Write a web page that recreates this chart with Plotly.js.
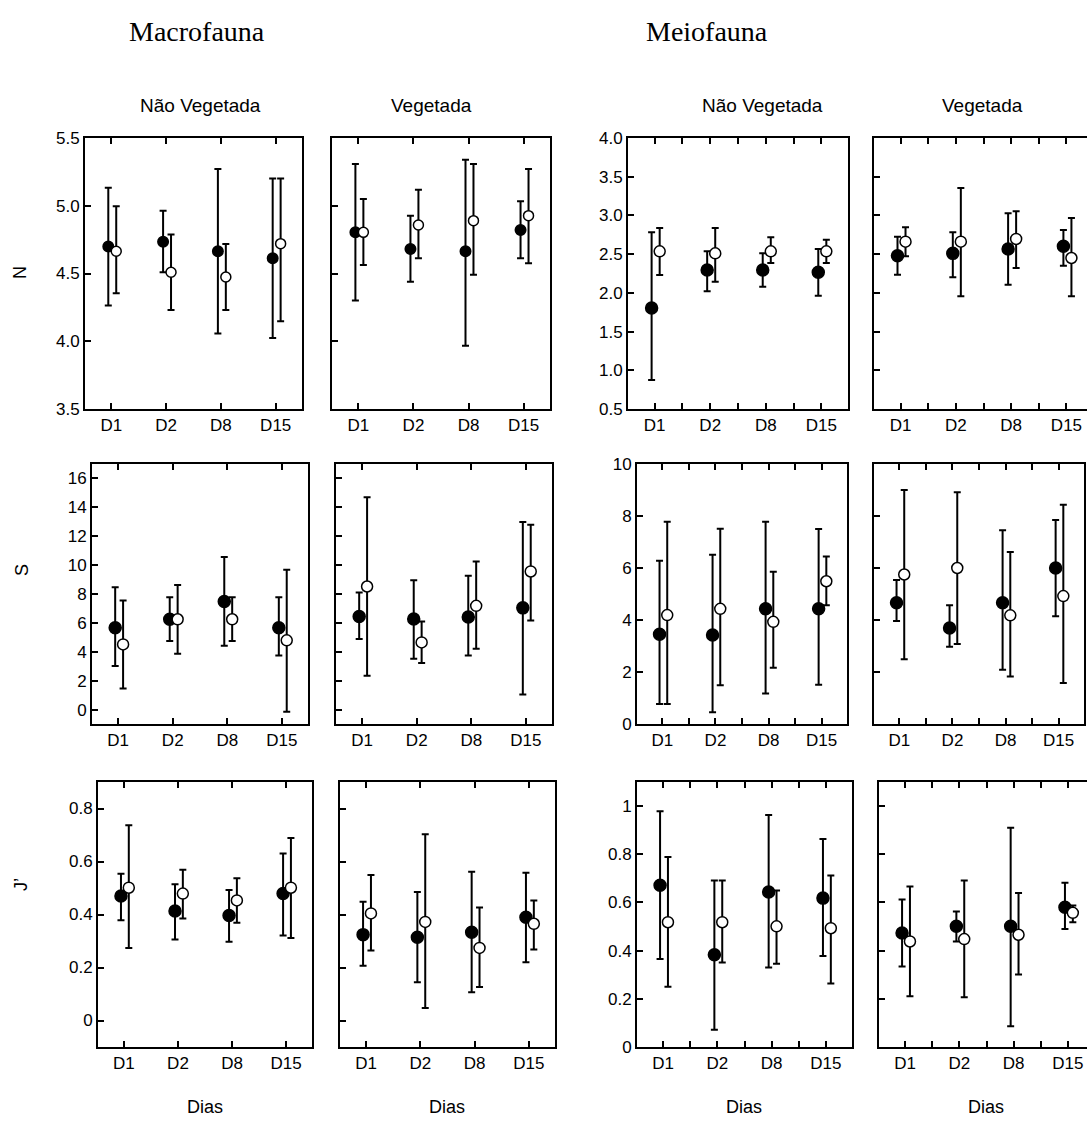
<!DOCTYPE html>
<html>
<head>
<meta charset="utf-8">
<script src="https://cdn.plot.ly/plotly-3.0.1.min.js"></script>
<style>
html,body{margin:0;padding:0;background:#fff;overflow:hidden;}
#chart{width:1100px;height:1126px;}
</style>
</head>
<body>
<div id="chart"></div>
<script>
// ---------------- DATA ----------------
const days = ['D1', 'D2', 'D8', 'D15'];

// Macrofauna – N – Não Vegetada
const macroN_NV_fill_mean  = [4.70, 4.735, 4.664, 4.612];
const macroN_NV_fill_upper = [5.133, 4.964, 5.271, 5.202];
const macroN_NV_fill_lower = [4.263, 4.509, 4.058, 4.024];
const macroN_NV_open_mean  = [4.664, 4.509, 4.474, 4.72];
const macroN_NV_open_upper = [4.996, 4.787, 4.718, 5.202];
const macroN_NV_open_lower = [4.354, 4.231, 4.231, 4.147];
// Macrofauna – N – Vegetada
const macroN_V_fill_mean  = [4.804, 4.681, 4.664, 4.821];
const macroN_V_fill_upper = [5.308, 4.927, 5.34, 5.033];
const macroN_V_fill_lower = [4.30, 4.44, 3.967, 4.612];
const macroN_V_open_mean  = [4.804, 4.858, 4.89, 4.927];
const macroN_V_open_upper = [5.05, 5.119, 5.308, 5.271];
const macroN_V_open_lower = [4.563, 4.612, 4.491, 4.575];
// Meiofauna – N – Não Vegetada
const meioN_NV_fill_mean  = [1.805, 2.295, 2.295, 2.265];
const meioN_NV_fill_upper = [2.782, 2.536, 2.51, 2.566];
const meioN_NV_fill_lower = [0.875, 2.02, 2.08, 1.964];
const meioN_NV_open_mean  = [2.536, 2.51, 2.536, 2.536];
const meioN_NV_open_upper = [2.838, 2.838, 2.717, 2.687];
const meioN_NV_open_lower = [2.231, 2.145, 2.386, 2.386];
// Meiofauna – N – Vegetada
const meioN_V_fill_mean  = [2.48, 2.51, 2.567, 2.601];
const meioN_V_fill_upper = [2.726, 2.782, 3.027, 2.812];
const meioN_V_fill_lower = [2.235, 2.20, 2.106, 2.351];
const meioN_V_open_mean  = [2.661, 2.661, 2.696, 2.45];
const meioN_V_open_upper = [2.846, 3.354, 3.053, 2.967];
const meioN_V_open_lower = [2.472, 1.955, 2.321, 1.955];

// Macrofauna – S – Não Vegetada
const macroS_NV_fill_mean  = [5.67, 6.25, 7.48, 5.67];
const macroS_NV_fill_upper = [8.47, 7.78, 10.56, 7.78];
const macroS_NV_fill_lower = [3.01, 4.75, 4.42, 3.75];
const macroS_NV_open_mean  = [4.51, 6.25, 6.25, 4.79];
const macroS_NV_open_upper = [7.55, 8.63, 7.78, 9.68];
const macroS_NV_open_lower = [1.46, 3.87, 4.75, -0.16];
// Macrofauna – S – Vegetada
const macroS_V_fill_mean  = [6.44, 6.27, 6.41, 7.04];
const macroS_V_fill_upper = [8.10, 8.96, 9.26, 12.99];
const macroS_V_fill_lower = [4.88, 3.52, 3.75, 1.04];
const macroS_V_open_mean  = [8.52, 4.65, 7.18, 9.56];
const macroS_V_open_upper = [14.70, 6.09, 10.25, 12.80];
const macroS_V_open_lower = [2.34, 3.22, 4.21, 6.16];
// Meiofauna – S – Não Vegetada
const meioS_NV_fill_mean  = [3.45, 3.42, 4.43, 4.43];
const meioS_NV_fill_upper = [6.28, 6.51, 7.78, 7.50];
const meioS_NV_fill_lower = [0.77, 0.45, 1.17, 1.51];
const meioS_NV_open_mean  = [4.19, 4.43, 3.93, 5.49];
const meioS_NV_open_upper = [7.78, 7.51, 5.86, 6.44];
const meioS_NV_open_lower = [0.77, 1.49, 2.16, 4.57];
// Meiofauna – S – Vegetada
const meioS_V_fill_mean  = [4.66, 3.69, 4.66, 6.00];
const meioS_V_fill_upper = [5.54, 4.57, 7.45, 7.85];
const meioS_V_fill_lower = [3.96, 2.97, 2.09, 4.14];
const meioS_V_open_mean  = [5.75, 6.00, 4.18, 4.92];
const meioS_V_open_upper = [9.00, 8.91, 6.62, 8.43];
const meioS_V_open_lower = [2.49, 3.08, 1.83, 1.58];

// Macrofauna – J' – Não Vegetada
const macroJ_NV_fill_mean  = [0.470, 0.413, 0.396, 0.479];
const macroJ_NV_fill_upper = [0.554, 0.514, 0.492, 0.630];
const macroJ_NV_fill_lower = [0.378, 0.306, 0.297, 0.321];
const macroJ_NV_open_mean  = [0.501, 0.479, 0.453, 0.501];
const macroJ_NV_open_upper = [0.737, 0.569, 0.537, 0.689];
const macroJ_NV_open_lower = [0.274, 0.385, 0.369, 0.311];
// Macrofauna – J' – Vegetada
const macroJ_V_fill_mean  = [0.324, 0.314, 0.333, 0.390];
const macroJ_V_fill_upper = [0.448, 0.485, 0.561, 0.558];
const macroJ_V_fill_lower = [0.207, 0.144, 0.107, 0.220];
const macroJ_V_open_mean  = [0.404, 0.372, 0.274, 0.365];
const macroJ_V_open_upper = [0.549, 0.703, 0.426, 0.453];
const macroJ_V_open_lower = [0.264, 0.047, 0.126, 0.268];
// Meiofauna – J' – Não Vegetada
const meioJ_NV_fill_mean  = [0.671, 0.383, 0.643, 0.618];
const meioJ_NV_fill_upper = [0.979, 0.691, 0.963, 0.863];
const meioJ_NV_fill_lower = [0.365, 0.072, 0.330, 0.378];
const meioJ_NV_open_mean  = [0.518, 0.518, 0.501, 0.493];
const meioJ_NV_open_upper = [0.789, 0.691, 0.650, 0.712];
const meioJ_NV_open_lower = [0.250, 0.351, 0.346, 0.264];
// Meiofauna – J' – Vegetada
const meioJ_V_fill_mean  = [0.473, 0.501, 0.501, 0.580];
const meioJ_V_fill_upper = [0.612, 0.562, 0.910, 0.682];
const meioJ_V_fill_lower = [0.334, 0.438, 0.086, 0.490];
const meioJ_V_open_mean  = [0.438, 0.448, 0.466, 0.557];
const meioJ_V_open_upper = [0.666, 0.691, 0.639, 0.587];
const meioJ_V_open_lower = [0.211, 0.207, 0.301, 0.518];

// Tick labels
const ticksMacroN = ['3.5', '4.0', '4.5', '5.0', '5.5'];
const ticksMeioN  = ['0.5', '1.0', '1.5', '2.0', '2.5', '3.0', '3.5', '4.0'];
const ticksMacroS = ['0', '2', '4', '6', '8', '10', '12', '14', '16'];
const ticksMeioS  = ['0', '2', '4', '6', '8', '10'];
const ticksMacroJ = ['0', '0.2', '0.4', '0.6', '0.8'];
const ticksMeioJ  = ['0', '0.2', '0.4', '0.6', '0.8', '1'];

// ---------------- LAYOUT HELPERS ----------------
const W = 1100, H = 1126;
const FONT = 'Liberation Sans, Arial, sans-serif';

const rowsY = [[138, 409], [464, 724], [782, 1047]];
const colsX = [
  [[85, 302], [332, 550], [628, 848], [874, 1093]],
  [[92, 308], [336, 552], [637, 847], [874, 1084]],
  [[98, 312], [340, 555], [637, 852], [879, 1094]]
];

const panelData = [
  [[macroN_NV_fill_mean, macroN_NV_fill_upper, macroN_NV_fill_lower, macroN_NV_open_mean, macroN_NV_open_upper, macroN_NV_open_lower],
   [macroN_V_fill_mean, macroN_V_fill_upper, macroN_V_fill_lower, macroN_V_open_mean, macroN_V_open_upper, macroN_V_open_lower],
   [meioN_NV_fill_mean, meioN_NV_fill_upper, meioN_NV_fill_lower, meioN_NV_open_mean, meioN_NV_open_upper, meioN_NV_open_lower],
   [meioN_V_fill_mean, meioN_V_fill_upper, meioN_V_fill_lower, meioN_V_open_mean, meioN_V_open_upper, meioN_V_open_lower]],
  [[macroS_NV_fill_mean, macroS_NV_fill_upper, macroS_NV_fill_lower, macroS_NV_open_mean, macroS_NV_open_upper, macroS_NV_open_lower],
   [macroS_V_fill_mean, macroS_V_fill_upper, macroS_V_fill_lower, macroS_V_open_mean, macroS_V_open_upper, macroS_V_open_lower],
   [meioS_NV_fill_mean, meioS_NV_fill_upper, meioS_NV_fill_lower, meioS_NV_open_mean, meioS_NV_open_upper, meioS_NV_open_lower],
   [meioS_V_fill_mean, meioS_V_fill_upper, meioS_V_fill_lower, meioS_V_open_mean, meioS_V_open_upper, meioS_V_open_lower]],
  [[macroJ_NV_fill_mean, macroJ_NV_fill_upper, macroJ_NV_fill_lower, macroJ_NV_open_mean, macroJ_NV_open_upper, macroJ_NV_open_lower],
   [macroJ_V_fill_mean, macroJ_V_fill_upper, macroJ_V_fill_lower, macroJ_V_open_mean, macroJ_V_open_upper, macroJ_V_open_lower],
   [meioJ_NV_fill_mean, meioJ_NV_fill_upper, meioJ_NV_fill_lower, meioJ_NV_open_mean, meioJ_NV_open_upper, meioJ_NV_open_lower],
   [meioJ_V_fill_mean, meioJ_V_fill_upper, meioJ_V_fill_lower, meioJ_V_open_mean, meioJ_V_open_upper, meioJ_V_open_lower]]
];

function numsFromLabels(lbls) { return lbls.map(Number); }
function steps(lo, hi, n) { const a = []; for (let i = 1; i < n; i++) a.push(lo + (hi - lo) * i / n); return a; }

// per row, per group (0 = macro, 1 = meio)
const yCfg = [
  [{range: [3.5, 5.5], labels: ticksMacroN, right: steps(3.5, 5.5, 9)},
   {range: [0.5, 4.0], labels: ticksMeioN, right: steps(0.5, 4.0, 7)}],
  [{range: [-1, 17], labels: ticksMacroS, right: steps(-1, 17, 10)},
   {range: [0, 10], labels: ticksMeioS, right: steps(0, 10, 11)}],
  [{range: [-0.1, 0.9], labels: ticksMacroJ, right: steps(-0.1, 0.9, 10)},
   {range: [0, 1.1], labels: ticksMeioJ, right: steps(0, 1.1, 12)}]
];

const traces = [];
const layout = {
  width: W, height: H,
  margin: {l: 0, r: 0, t: 0, b: 0},
  paper_bgcolor: '#fff', plot_bgcolor: '#fff',
  showlegend: false,
  font: {family: FONT, color: '#000', size: 17},
  annotations: []
};

const xIdx = days.map((d, i) => i);
const OFF_FILL = -0.055, OFF_OPEN = 0.09;

for (let r = 0; r < 3; r++) {
  for (let c = 0; c < 4; c++) {
    const k = r * 4 + c + 1;
    const g = c < 2 ? 0 : 1;
    const cfg = yCfg[r][g];
    const [x0, x1] = colsX[r][c];
    const [yt, yb] = rowsY[r];
    const xa = {
      domain: [x0 / W, x1 / W],
      range: [-0.48, 3.48],
      tickmode: 'array', tickvals: xIdx, ticktext: days,
      ticks: 'inside', ticklen: 6, tickwidth: 2, tickcolor: '#000',
      showline: true, linewidth: 2, linecolor: '#000', mirror: 'ticks',
      showgrid: false, zeroline: false, fixedrange: true,
      anchor: 'y' + k,
      tickfont: {family: FONT, size: 17, color: '#000'}
    };
    if (g === 1) {
      xa.minor = {tick0: 0.5, dtick: 1, ticks: 'inside', ticklen: 6, tickwidth: 2, tickcolor: '#000', showgrid: false};
    }
    const ya = {
      domain: [1 - yb / H, 1 - yt / H],
      range: cfg.range,
      tickmode: 'array', tickvals: numsFromLabels(cfg.labels), ticktext: cfg.labels,
      showticklabels: (c === 0 || c === 2),
      ticks: 'inside', ticklen: 6, tickwidth: 2, tickcolor: '#000',
      showline: true, linewidth: 2, linecolor: '#000', mirror: true,
      showgrid: false, zeroline: false, fixedrange: true,
      anchor: 'x' + k,
      tickfont: {family: FONT, size: 17, color: '#000'}
    };
    const yr = {
      overlaying: 'y' + k, side: 'right', anchor: 'x' + k,
      range: cfg.range,
      tickmode: 'array', tickvals: cfg.right,
      showticklabels: false,
      ticks: 'inside', ticklen: 6, tickwidth: 2, tickcolor: '#000',
      showline: false, showgrid: false, zeroline: false, fixedrange: true
    };
    layout['xaxis' + k] = xa;
    layout['yaxis' + k] = ya;
    layout['yaxis' + (k + 12)] = yr;

    const big = (g === 1 || r > 0);
    const d = panelData[r][c];
    const series = [
      {mean: d[0], up: d[1], lo: d[2], off: OFF_FILL, fill: '#000', size: big ? 12 : 10.5},
      {mean: d[3], up: d[4], lo: d[5], off: OFF_OPEN, fill: '#fff', size: big ? 11 : 10}
    ];
    series.forEach(s => {
      traces.push({
        type: 'scatter', mode: 'markers',
        x: xIdx.map(i => i + s.off),
        y: s.mean,
        xaxis: 'x' + k, yaxis: 'y' + k,
        cliponaxis: false,
        marker: {color: s.fill, size: s.size, line: {color: '#000', width: 1.5}},
        error_y: {
          type: 'data', symmetric: false,
          array: s.mean.map((m, i) => s.up[i] - m),
          arrayminus: s.mean.map((m, i) => m - s.lo[i]),
          color: '#000', thickness: 2, width: 3.5
        },
        hoverinfo: 'skip'
      });
    });
  }
}

function ann(text, px, py, size, family, angle) {
  layout.annotations.push({
    text: text, xref: 'paper', yref: 'paper',
    x: px / W, y: 1 - py / H, xanchor: 'center', yanchor: 'middle',
    showarrow: false, textangle: angle || 0,
    font: {family: family || FONT, size: size, color: '#000'}
  });
}

const SERIF = 'Liberation Serif, Times New Roman, serif';
ann('Macrofauna', 197, 32, 28, SERIF);
ann('Meiofauna', 707, 32, 28, SERIF);
ann('Não Vegetada', 200, 105, 19);
ann('Vegetada', 431, 105, 19);
ann('Não Vegetada', 762, 105, 19);
ann('Vegetada', 982, 105, 19);
ann('N', 20, 273, 18, FONT, -90);
ann('S', 22, 570, 18, FONT, -90);
ann('J’', 21, 885, 18, FONT, -90);
ann('Dias', 205, 1107, 18);
ann('Dias', 447, 1107, 18);
ann('Dias', 744, 1107, 18);
ann('Dias', 986, 1107, 18);

Plotly.newPlot('chart', traces, layout, {staticPlot: true, displayModeBar: false});
</script>
</body>
</html>
